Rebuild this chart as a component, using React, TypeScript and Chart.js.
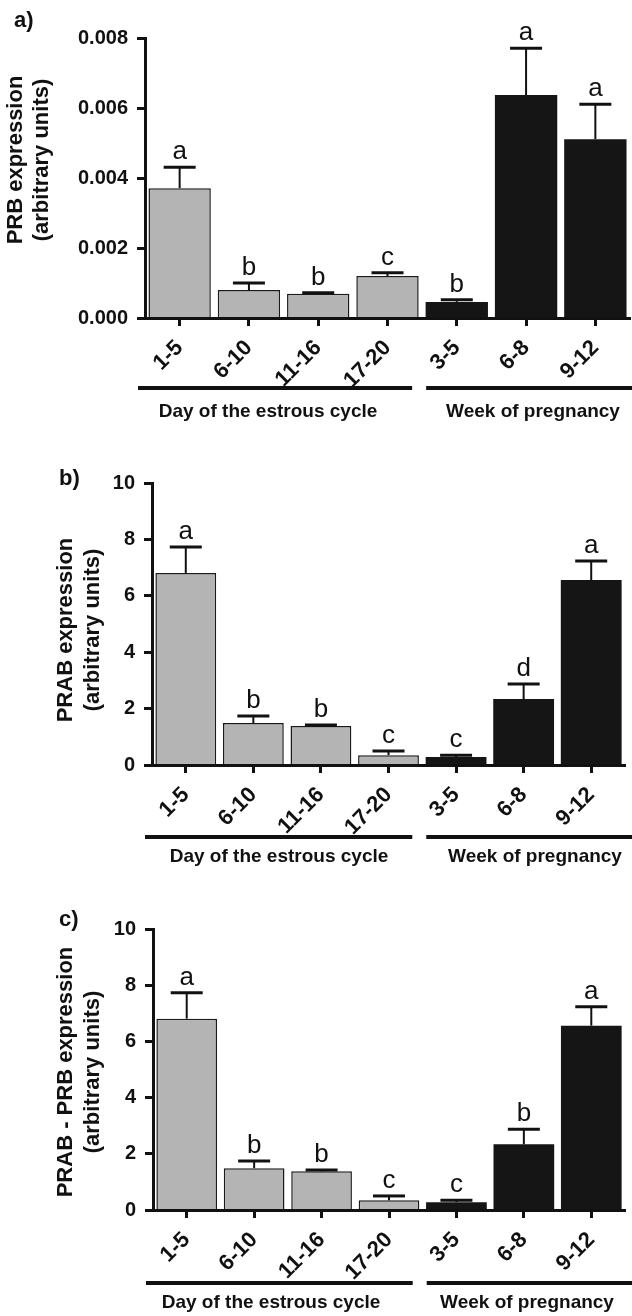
import React, { useEffect, useRef } from "react";
import { Chart, registerables } from "chart.js";

Chart.register(...registerables);

// ---------- data ----------
const categories = ["1-5", "6-10", "11-16", "17-20", "3-5", "6-8", "9-12"];
const estrousCount = 4; // first 4 categories = estrous cycle, rest = pregnancy
const groupLabels = ["Day of the estrous cycle", "Week of pregnancy"];

const prbMean = [0.00371, 0.0008, 0.00069, 0.0012, 0.00046, 0.00637, 0.00511];
const prbSem = [0.0006, 0.0002, 0.00003, 0.00009, 0.00006, 0.00134, 0.001];
const prbLetters = ["a", "b", "b", "c", "b", "a", "a"];
const prbTicks = [0, 0.002, 0.004, 0.006, 0.008];

const prabMean = [6.81, 1.49, 1.38, 0.35, 0.28, 2.34, 6.56];
const prabSem = [0.92, 0.25, 0.04, 0.15, 0.07, 0.53, 0.67];
const prabLetters = ["a", "b", "b", "c", "c", "d", "a"];
const prabTicks = [0, 2, 4, 6, 8, 10];

const diffMean = [6.81, 1.49, 1.38, 0.35, 0.28, 2.34, 6.56];
const diffSem = [0.92, 0.25, 0.04, 0.15, 0.07, 0.53, 0.67];
const diffLetters = ["a", "b", "b", "c", "c", "b", "a"];
const diffTicks = [0, 2, 4, 6, 8, 10];

// ---------- styling / layout ----------
const FONT = '"Liberation Sans", Arial, Helvetica, sans-serif';
const GRAY = "#b4b4b4";
const BLACK = "#151515";
const INK = "#111111";

const panels = [
  {
    key: "a",
    label: "a)",
    top: 0,
    height: 440,
    yTitle: ["PRB expression", "(arbitrary units)"],
    mean: prbMean,
    sem: prbSem,
    letters: prbLetters,
    ticks: prbTicks,
    decimals: 3,
    padTop: 38,
    padRight: 2,
    yWidth: 145,
    xHeight: 122,
    labelX: 14,
    labelY: 27,
    titleX: [16, 42],
    titleY: 160,
    lineY: 388,
    textY: 412,
    textX: [268, 533],
  },
  {
    key: "b",
    label: "b)",
    top: 440,
    height: 440,
    yTitle: ["PRAB expression", "(arbitrary units)"],
    mean: prabMean,
    sem: prabSem,
    letters: prabLetters,
    ticks: prabTicks,
    decimals: 0,
    padTop: 43,
    padRight: 7,
    yWidth: 152,
    xHeight: 115,
    labelX: 59,
    labelY: 45,
    titleX: [66, 93],
    titleY: 190,
    lineY: 397,
    textY: 417,
    textX: [279, 535],
  },
  {
    key: "c",
    label: "c)",
    top: 880,
    height: 436,
    yTitle: ["PRAB - PRB expression", "(arbitrary units)"],
    mean: diffMean,
    sem: diffSem,
    letters: diffLetters,
    ticks: diffTicks,
    decimals: 0,
    padTop: 49,
    padRight: 7,
    yWidth: 153,
    xHeight: 106,
    labelX: 59,
    labelY: 46,
    titleX: [66, 93],
    titleY: 192,
    lineY: 403,
    textY: 423,
    textX: [271, 527],
  },
];

function Panel({ cfg }: { cfg: any }) {
  const ref = useRef<HTMLCanvasElement | null>(null);

  useEffect(() => {
    if (!ref.current) return;
    const annot = {
      id: "annot" + cfg.key,
      afterDatasetsDraw(chart: any) {
        const ctx = chart.ctx;
        const y = chart.scales.y;
        const meta = chart.getDatasetMeta(0);
        meta.data.forEach((bar: any, i: number) => {
          const base = y.getPixelForValue(cfg.mean[i]);
          const top = y.getPixelForValue(cfg.mean[i] + cfg.sem[i]);
          ctx.save();
          ctx.strokeStyle = INK;
          ctx.lineWidth = 2;
          ctx.beginPath();
          ctx.moveTo(bar.x, base);
          ctx.lineTo(bar.x, top);
          ctx.stroke();
          ctx.lineWidth = 3;
          ctx.beginPath();
          ctx.moveTo(bar.x - 16, top);
          ctx.lineTo(bar.x + 16, top);
          ctx.stroke();
          ctx.fillStyle = INK;
          ctx.font = `26px ${FONT}`;
          ctx.textAlign = "center";
          ctx.textBaseline = "alphabetic";
          ctx.fillText(cfg.letters[i], bar.x, top - 8);
          ctx.restore();
        });
      },
      afterDraw(chart: any) {
        const ctx = chart.ctx;
        const x = chart.scales.x;
        const area = chart.chartArea;
        ctx.save();
        ctx.fillStyle = INK;
        // panel label
        ctx.font = `bold 22px ${FONT}`;
        ctx.textAlign = "left";
        ctx.textBaseline = "alphabetic";
        ctx.fillText(cfg.label, cfg.labelX, cfg.labelY);
        // y title
        ctx.font = `bold 22px ${FONT}`;
        ctx.textAlign = "center";
        ctx.textBaseline = "middle";
        cfg.yTitle.forEach((t: string, k: number) => {
          ctx.save();
          ctx.translate(cfg.titleX[k], cfg.titleY);
          ctx.rotate(-Math.PI / 2);
          ctx.fillText(t, 0, 0);
          ctx.restore();
        });
        // group lines
        const xa = x.getPixelForValue(estrousCount - 1);
        const xb = x.getPixelForValue(estrousCount);
        const mid = (xa + xb) / 2;
        ctx.strokeStyle = INK;
        ctx.lineWidth = 4;
        ctx.beginPath();
        ctx.moveTo(area.left - 7, cfg.lineY);
        ctx.lineTo(mid - 10, cfg.lineY);
        ctx.moveTo(mid + 4, cfg.lineY);
        ctx.lineTo(chart.width, cfg.lineY);
        ctx.stroke();
        ctx.font = `bold 19px ${FONT}`;
        ctx.textBaseline = "middle";
        ctx.fillText(groupLabels[0], cfg.textX[0], cfg.textY);
        ctx.fillText(groupLabels[1], cfg.textX[1], cfg.textY);
        ctx.restore();
      },
    };

    const chart = new Chart(ref.current, {
      type: "bar",
      data: {
        labels: categories,
        datasets: [
          {
            data: cfg.mean,
            backgroundColor: categories.map((_, i) => (i < estrousCount ? GRAY : BLACK)),
            borderColor: "#1a1a1a",
            borderWidth: categories.map((_, i) => (i < estrousCount ? 1.5 : 0)),
            barPercentage: 0.9,
            categoryPercentage: 1,
          },
        ],
      },
      options: {
        responsive: false,
        animation: false,
        devicePixelRatio: 1,
        layout: { padding: { top: cfg.padTop, right: cfg.padRight, left: 0, bottom: 0 } },
        plugins: { legend: { display: false }, tooltip: { enabled: false } },
        scales: {
          x: {
            offset: true,
            grid: {
              display: true,
              offset: false,
              drawOnChartArea: false,
              drawTicks: true,
              tickLength: 8,
              tickWidth: 3,
              tickColor: INK,
            },
            border: { display: true, width: 3, color: INK, z: 1 },
            ticks: {
              autoSkip: false,
              maxRotation: 45,
              minRotation: 45,
              padding: 9,
              color: INK,
              font: { family: FONT, size: 22, weight: "bold" },
            },
            afterFit: (s: any) => {
              s.height = cfg.xHeight;
            },
          },
          y: {
            min: cfg.ticks[0],
            max: cfg.ticks[cfg.ticks.length - 1],
            grid: {
              display: true,
              drawOnChartArea: false,
              drawTicks: true,
              tickLength: 8,
              tickWidth: 3,
              tickColor: INK,
            },
            border: { display: true, width: 3, color: INK, z: 1 },
            ticks: {
              stepSize: cfg.ticks[1] - cfg.ticks[0],
              padding: 9,
              color: INK,
              font: { family: FONT, size: 20, weight: "bold" },
              callback: (v: any) => Number(v).toFixed(cfg.decimals),
            },
            afterFit: (s: any) => {
              s.width = cfg.yWidth;
            },
          },
        },
      } as any,
      plugins: [annot],
    });
    return () => chart.destroy();
  }, []);

  return (
    <canvas
      ref={ref}
      width={632}
      height={cfg.height}
      style={{ position: "absolute", left: 0, top: cfg.top, width: 632, height: cfg.height }}
    />
  );
}

export default function App() {
  return (
    <div style={{ position: "absolute", left: 0, top: 0, width: 632, height: 1316, background: "#fff" }}>
      {panels.map((p) => (
        <Panel key={p.key} cfg={p} />
      ))}
    </div>
  );
}
